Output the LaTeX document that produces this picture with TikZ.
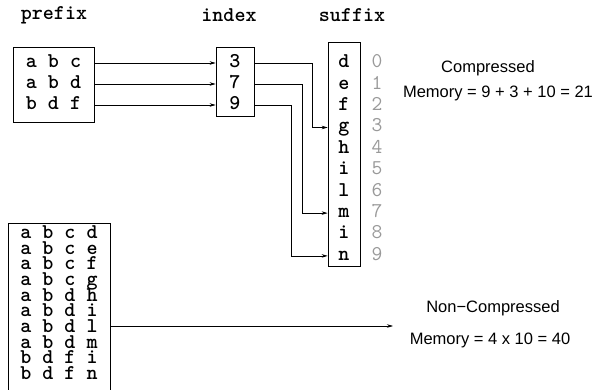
\documentclass[tikz,border=0pt]{standalone}
\usepackage{fontspec}
\setmainfont{Liberation Sans}
\usetikzlibrary{arrows.meta}

\begin{document}
\begin{tikzpicture}[
		x=1pt, y=-1pt,
		>={Stealth[length=6pt,width=3.5pt]},
		font=\fontsize{16.5}{19}\selectfont,
		box/.style={draw, line width=0.7pt, inner sep=0pt},
		cell/.style={font=\fontsize{21}{21}\selectfont\ttfamily\bfseries,
			inner sep=0pt, text height=9pt, text depth=0pt},
		head/.style={font=\fontsize{21}{21}\selectfont\ttfamily\bfseries, inner sep=0pt},
		num/.style={font=\fontsize{21}{21}\selectfont\ttfamily, text=gray!80,
			inner sep=0pt, text height=9pt, text depth=0pt},
		link/.style={->, line width=0.6pt}
		]
		\useasboundingbox (0,0) rectangle (600,390);
		
		% headings
		\node[head] (hpre) at (54,15) {prefix};
		\node[head] (hidx) at (229,15) {index};
		\node[head] (hsuf) at (352,15) {suffix};
		
		% prefix box
		\node[box, minimum width=81pt, minimum height=75pt] (pbox) at (53.5,84.5) {};
		\node[cell] (p1) at (53.5,63) {a b c};
		\node[cell] (p2) at (53.5,84) {a b d};
		\node[cell] (p3) at (53.5,105) {b d f};
		
		% index box
		\node[box, minimum width=38pt, minimum height=69pt] (ibox) at (235,81.5) {};
		\node[cell] (i1) at (235,63) {3};
		\node[cell] (i2) at (235,84) {7};
		\node[cell] (i3) at (235,105) {9};
		
		% suffix box
		\node[box, minimum width=32pt, minimum height=224pt] (sbox) at (344,154) {};
		\foreach \ch [count=\k from 0] in {d,e,f,g,h,i,l,m,i,n} {
			\node[cell] (s\k) at (344,63.3+21.4*\k) {\ch};
			\node[num] (n\k) at (377,63.3+21.4*\k) {\k};
		}
		
		\draw[link] (p1 -| pbox.east) -- (i1 -| ibox.west);
		\draw[link] (p2 -| pbox.east) -- (i2 -| ibox.west);
		\draw[link] (p3 -| pbox.east) -- (i3 -| ibox.west);
		
		\draw[link] (i1 -| ibox.east) -- ++(58,0) |- (s3 -| sbox.west);
		\draw[link] (i2 -| ibox.east) -- ++(47.7,0) |- (s7 -| sbox.west);
		\draw[link] (i3 -| ibox.east) -- ++(37,0) |- (s9 -| sbox.west);
		
		\node (comp) at (488,68) {Compressed};
		\node (cmem) at (498,93) {Memory = 9 + 3 + 10 = 21};
		
		% full table
		\node[box, minimum width=102pt, minimum height=170pt] (nbox) at (59,308) {};
		\foreach \row [count=\k from 0] in {a b c d,a b c e,a b c f,a b c g,a b d h,
			a b d i,a b d l,a b d m,b d f i,b d f n} {
			\node[cell] (r\k) at (59,234+15.67*\k) {\row};
		}
		
		\coordinate (nend) at (393,326);
		\draw[link] (nbox.east |- nend) -- (nend);
		
		\node (ncomp) at (493,308) {Non−Compressed};
		\node (nmem) at (490,340) {Memory = 4 x 10 = 40};
		
	\end{tikzpicture}
\end{document}
